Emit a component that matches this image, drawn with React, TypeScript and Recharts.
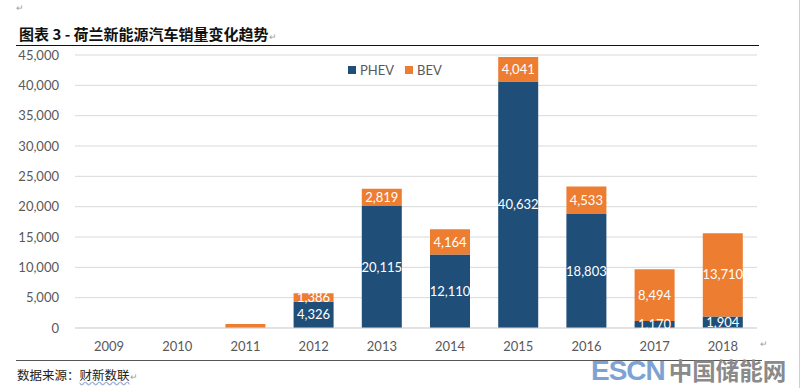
import React from 'react'
import { BarChart, Bar, XAxis, YAxis, CartesianGrid, LabelList } from 'recharts'

const YEARS = ['2009', '2010', '2011', '2012', '2013', '2014', '2015', '2016', '2017', '2018']
const PHEV = [0, 0, 0, 4326, 20115, 12110, 40632, 18803, 1170, 1904]
const BEV = [0, 0, 650, 1386, 2819, 4164, 4041, 4533, 8494, 13710]
const Y_TICKS = [0, 5000, 10000, 15000, 20000, 25000, 30000, 35000, 40000, 45000]

const BLUE = '#1f4e79'
const ORANGE = '#ed7d31'
const GREY_TEXT = '#595959'
const FONT = 'Lato, "Noto Sans", sans-serif'
const CJK = '"Noto Sans CJK SC", sans-serif'

const data = YEARS.map((y, i) => ({ year: y, phev: PHEV[i], bev: BEV[i] }))

const fmt = (v: any) => (Number(v) >= 1000 ? Number(v).toLocaleString('en-US') : '')

// legend drawn as plain html so it does not eat into the plot area
function LegendBox() {
  const items = [
    { label: 'PHEV', color: BLUE },
    { label: 'BEV', color: ORANGE },
  ]
  return (
    <div style={{ position: 'absolute', left: 348, top: 62, display: 'flex', alignItems: 'center', gap: 11, fontFamily: FONT, fontSize: 13, color: GREY_TEXT }}>
      {items.map((it) => (
        <div key={it.label} style={{ display: 'flex', alignItems: 'center', gap: 4 }}>
          <span style={{ width: 8, height: 8, background: it.color, display: 'inline-block' }} />
          <span>{it.label}</span>
        </div>
      ))}
    </div>
  )
}

const mark = { position: 'absolute' as const, fontSize: 9, color: '#a0a0a0', fontFamily: FONT }

export default function App() {
  return (
    <div style={{ position: 'absolute', left: 0, top: 0, width: 800, height: 388, background: '#fff', overflow: 'hidden' }}>
      <div style={{ ...mark, left: 16, top: 2 }}>↵</div>
      <div style={{ position: 'absolute', left: 19, top: 23, fontFamily: CJK, fontWeight: 700, fontSize: 15, color: '#111', whiteSpace: 'nowrap' }}>
        图表 3 - 荷兰新能源汽车销量变化趋势<span style={{ fontSize: 9, color: '#a0a0a0', fontWeight: 400 }}>↵</span>
      </div>
      <div style={{ position: 'absolute', left: 16, top: 45, width: 743, height: 0, borderTop: '1.5px solid #111' }} />

      <div style={{ position: 'absolute', left: 0, top: 0 }}>
        <BarChart width={800} height={388} data={data} margin={{ top: 55, right: 43, bottom: 30, left: 0 }}>
          <CartesianGrid vertical={false} stroke="#d9d9d9" />
          <XAxis
            dataKey="year"
            height={30}
            tickLine={false}
            axisLine={{ stroke: '#d9d9d9' }}
            tickMargin={8}
            tick={{ fontSize: 13, fill: GREY_TEXT, fontFamily: FONT }}
          />
          <YAxis
            width={75}
            domain={[0, 45000]}
            ticks={Y_TICKS}
            tickLine={false}
            axisLine={false}
            tickMargin={10}
            tickFormatter={(v) => Number(v).toLocaleString('en-US')}
            tick={{ fontSize: 13, fill: GREY_TEXT, fontFamily: FONT }}
          />
          <Bar dataKey="phev" name="PHEV" stackId="a" fill={BLUE} barSize={40} isAnimationActive={false}>
            <LabelList dataKey="phev" position="center" formatter={fmt} fill="#fff" fontSize={13} fontFamily={FONT} />
          </Bar>
          <Bar dataKey="bev" name="BEV" stackId="a" fill={ORANGE} barSize={40} isAnimationActive={false}>
            <LabelList dataKey="bev" position="center" formatter={fmt} fill="#fff" fontSize={13} fontFamily={FONT} />
          </Bar>
        </BarChart>
      </div>
      <LegendBox />

      <div style={{ position: 'absolute', left: 16, top: 360, width: 746, height: 0, borderTop: '1px solid #555' }} />
      <div style={{ ...mark, left: 760, top: 338 }}>↵</div>
      <div style={{ position: 'absolute', left: 17, top: 365, fontFamily: CJK, fontSize: 12.5, color: '#222', whiteSpace: 'nowrap' }}>
        数据来源：<span style={{ textDecoration: 'underline wavy #9bb3d6' }}>财新数联</span>
        <span style={{ fontSize: 9, color: '#a0a0a0' }}>↵</span>
      </div>

      <div style={{ position: 'absolute', left: 591, top: 356, height: 28, whiteSpace: 'nowrap', display: 'flex', alignItems: 'baseline', lineHeight: '28px' }}>
        <span style={{ fontFamily: '"Liberation Sans", Arial, sans-serif', fontWeight: 700, fontSize: 28, letterSpacing: -1, color: '#7ea3d2' }}>ESCN</span>
        <span style={{ fontFamily: CJK, fontWeight: 700, fontSize: 23.5, color: '#8a8a8a', marginLeft: 4 }}>中国储能网</span>
      </div>
      <div style={{ position: 'absolute', left: 799, top: 0, width: 1, height: 388, background: '#d0d0d0' }} />
    </div>
  )
}
